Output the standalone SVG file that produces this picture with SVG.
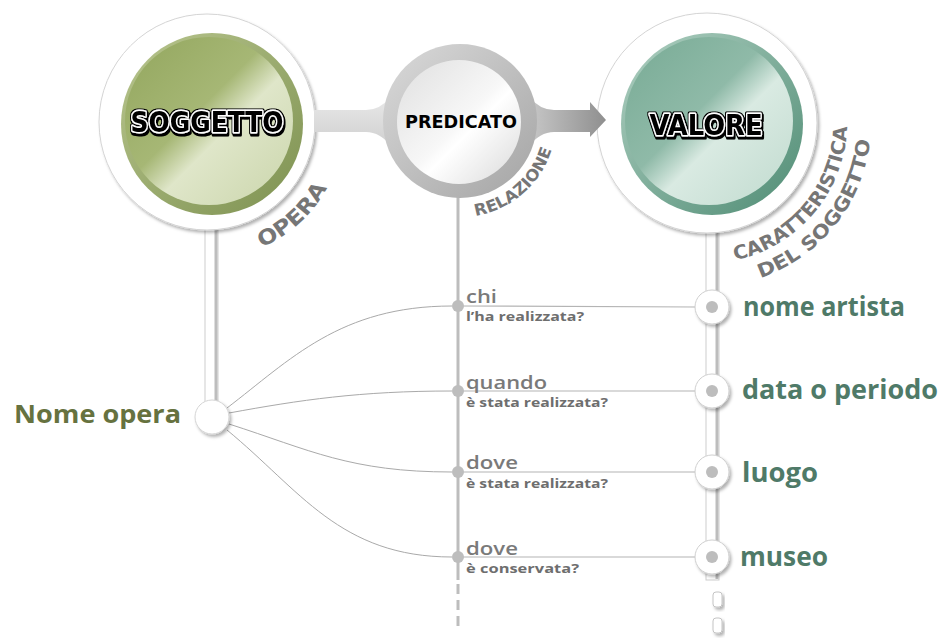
<svg xmlns="http://www.w3.org/2000/svg" width="946" height="638" viewBox="0 0 946 638">
<defs>
<style>
.title{font-family:"DejaVu Sans","Liberation Sans",sans-serif;font-weight:bold;fill:#000;stroke:#fff;stroke-width:3;paint-order:stroke;stroke-linejoin:round}
.arc{font-family:"DejaVu Sans","Liberation Sans",sans-serif;font-weight:bold;fill:#767676}
.q{font-family:"Open Sans","Liberation Sans",sans-serif;font-weight:600;fill:#7a7a7a;font-size:18px}
.qs{font-family:"Open Sans","Liberation Sans",sans-serif;font-weight:700;fill:#6e6e6e;font-size:12.5px}
.val{font-family:"Open Sans","Liberation Sans",sans-serif;font-weight:700;fill:#4f7a68;font-size:26px}
.ring{fill:#fff;stroke:#d4d4d4;stroke-width:1;filter:url(#shadow)}
.vnode{fill:#fff;stroke:#cfcfcf;stroke-width:1;filter:url(#shadow)}
.dot{fill:#bdbdbd}
.thin{fill:none;stroke:#b4b4b4;stroke-width:1.2}
.curve{fill:none;stroke:#a9a9a9;stroke-width:1}
</style>
<filter id="shadow" x="-20%" y="-20%" width="150%" height="150%">
<feDropShadow dx="2" dy="2.5" stdDeviation="1.5" flood-color="#000" flood-opacity="0.3"/>
</filter>
<filter id="outline" x="-10%" y="-40%" width="120%" height="180%">
<feMorphology in="SourceAlpha" operator="dilate" radius="1.3" result="d"/>
<feFlood flood-color="#000"/>
<feComposite in2="d" operator="in" result="o"/>
<feOffset in="o" dx="1" dy="1.5" result="oo"/>
<feMerge><feMergeNode in="oo"/><feMergeNode in="o"/><feMergeNode in="SourceGraphic"/></feMerge>
</filter>
<linearGradient id="greenRim" x1="0" y1="0" x2="1" y2="1">
<stop offset="0" stop-color="#b9c68f"/><stop offset="1" stop-color="#7d9150"/>
</linearGradient>
<linearGradient id="greenIn" x1="0.1" y1="0.1" x2="0.9" y2="0.9">
<stop offset="0" stop-color="#97aa63"/><stop offset="0.42" stop-color="#a6b775"/><stop offset="0.6" stop-color="#dfe6c9"/><stop offset="1" stop-color="#cfd9b2"/>
</linearGradient>
<linearGradient id="tealRim" x1="0" y1="0" x2="1" y2="1">
<stop offset="0" stop-color="#b0d0c2"/><stop offset="1" stop-color="#4f8c74"/>
</linearGradient>
<linearGradient id="tealIn" x1="0.1" y1="0.1" x2="0.9" y2="0.9">
<stop offset="0" stop-color="#7dae99"/><stop offset="0.42" stop-color="#8fbaa8"/><stop offset="0.6" stop-color="#d9eae2"/><stop offset="1" stop-color="#c6ded3"/>
</linearGradient>
<linearGradient id="grayRing" x1="0" y1="0" x2="1" y2="1">
<stop offset="0" stop-color="#dadada"/><stop offset="1" stop-color="#a4a4a4"/>
</linearGradient>
<linearGradient id="whiteIn" x1="0.1" y1="0.1" x2="0.9" y2="0.9">
<stop offset="0" stop-color="#e4e4e4"/><stop offset="0.5" stop-color="#f7f7f7"/><stop offset="0.6" stop-color="#ffffff"/><stop offset="1" stop-color="#e2e2e2"/>
</linearGradient>
<linearGradient id="bandL" x1="0" y1="0" x2="0" y2="1">
<stop offset="0" stop-color="#e9e9e9"/><stop offset="1" stop-color="#cfcfcf"/>
</linearGradient>
<linearGradient id="bandR" x1="0" y1="0" x2="1" y2="0">
<stop offset="0" stop-color="#c8c8c8"/><stop offset="1" stop-color="#8f8f8f"/>
</linearGradient>
<path id="arcOpera" d="M242.5,254.3 A137,137 0 0 0 335.7,168.9"/>
<path id="arcRel" d="M460,217 A96,96 0 0 0 555.1,134.4"/>
<path id="arcCar" d="M711.9,262.9 A140,140 0 0 0 845.6,103.5"/>
<path id="arcDel" d="M735.5,284.5 A164,164 0 0 0 870.8,114.4"/>
</defs>

<rect width="946" height="638" fill="#fff"/>

<g id="node-soggetto">
<rect x="205" y="220" width="13" height="185" fill="#fff" stroke="#cdcdcd" stroke-width="1"/>
<line x1="216" y1="222" x2="216" y2="404" stroke="#bdbdbd" stroke-width="3"/>
<circle class="ring" cx="207" cy="122" r="108"/>
<circle cx="212" cy="124" r="91" fill="url(#greenRim)"/>
<circle cx="209" cy="121" r="84" fill="url(#greenIn)"/>
<text class="title" x="207" y="132" font-size="29" text-anchor="middle" textLength="153" lengthAdjust="spacingAndGlyphs" filter="url(#outline)">SOGGETTO</text>
<text class="arc" font-size="21"><textPath href="#arcOpera" startOffset="50%" text-anchor="middle" textLength="90" lengthAdjust="spacingAndGlyphs">OPERA</textPath></text>
</g>

<g id="node-valore">
<rect x="706" y="225" width="13" height="355" fill="#fff" stroke="#cdcdcd" stroke-width="1"/>
<line x1="717" y1="228" x2="717" y2="579" stroke="#bdbdbd" stroke-width="3"/>
<circle class="ring" cx="707" cy="123" r="110"/>
<circle cx="712" cy="124" r="91" fill="url(#tealRim)"/>
<circle cx="709" cy="121" r="84" fill="url(#tealIn)"/>
<text class="title" x="706" y="135" font-size="29" text-anchor="middle" textLength="113" lengthAdjust="spacingAndGlyphs" filter="url(#outline)">VALORE</text>
<text class="arc" font-size="19"><textPath href="#arcCar" startOffset="50%" text-anchor="middle" textLength="188" lengthAdjust="spacingAndGlyphs">CARATTERISTICA</textPath></text>
<text class="arc" font-size="19"><textPath href="#arcDel" startOffset="50%" text-anchor="middle" textLength="186" lengthAdjust="spacingAndGlyphs">DEL SOGGETTO</textPath></text>
<rect x="713" y="592" width="9" height="15" rx="3" fill="#fff" stroke="#c4c4c4" stroke-width="1" filter="url(#shadow)"/>
<rect x="713" y="618" width="9" height="15" rx="3" fill="#fff" stroke="#c4c4c4" stroke-width="1" filter="url(#shadow)"/>
</g>

<g id="connectors">
<path d="M314,110 L366,110 Q380,110 392,96 L392,147 Q380,132 366,132 L314,132 Z" fill="url(#bandL)"/>
<path d="M528,96 Q540,110 554,110 L590,110 L590,102 L606,120 L590,137 L590,132 L554,132 Q540,132 528,147 Z" fill="url(#bandR)"/>
<line x1="458" y1="196" x2="458" y2="580" stroke="#bdbdbd" stroke-width="3"/>
<line x1="458" y1="584" x2="458" y2="630" stroke="#bdbdbd" stroke-width="3" stroke-dasharray="10 6"/>
<path class="curve" d="M227,408 C290,360 340,306 452,306"/>
<path class="curve" d="M229,413 C300,400 360,391 452,391"/>
<path class="curve" d="M229,424 C310,450 350,472 452,472"/>
<path class="curve" d="M227,430 C300,490 340,557 452,557"/>
<line class="thin" x1="458" y1="306" x2="696" y2="307"/>
<line class="thin" x1="458" y1="391" x2="696" y2="391"/>
<line class="thin" x1="458" y1="472" x2="696" y2="472"/>
<line class="thin" x1="458" y1="557" x2="696" y2="557"/>
</g>

<g id="node-predicato">
<circle cx="460" cy="121" r="77" fill="url(#grayRing)"/>
<circle cx="459" cy="122" r="62" fill="url(#whiteIn)"/>
<text class="title" x="461" y="128" font-size="17" text-anchor="middle" textLength="112" lengthAdjust="spacingAndGlyphs" style="stroke:none">PREDICATO</text>
<text class="arc" font-size="16"><textPath href="#arcRel" startOffset="50%" text-anchor="middle" textLength="106" lengthAdjust="spacingAndGlyphs">RELAZIONE</textPath></text>
</g>

<g id="node-nome-opera">
<circle class="ring" cx="212" cy="417" r="17"/>
<text x="14" y="423" font-family="'Open Sans','Liberation Sans',sans-serif" font-weight="700" font-size="25" fill="#66723f" textLength="167" lengthAdjust="spacingAndGlyphs">Nome opera</text>
</g>

<g id="node-chi">
<circle class="dot" cx="458" cy="306" r="6"/>
<text class="q" x="466" y="303" textLength="31" lengthAdjust="spacingAndGlyphs">chi</text>
<text class="qs" x="466" y="321" textLength="118" lengthAdjust="spacingAndGlyphs">l’ha realizzata?</text>
</g>
<g id="node-quando">
<circle class="dot" cx="458" cy="391" r="6"/>
<text class="q" x="466" y="389" textLength="81" lengthAdjust="spacingAndGlyphs">quando</text>
<text class="qs" x="466" y="407" textLength="142" lengthAdjust="spacingAndGlyphs">è stata realizzata?</text>
</g>
<g id="node-dove1">
<circle class="dot" cx="458" cy="472" r="6"/>
<text class="q" x="466" y="469" textLength="52" lengthAdjust="spacingAndGlyphs">dove</text>
<text class="qs" x="466" y="488" textLength="142" lengthAdjust="spacingAndGlyphs">è stata realizzata?</text>
</g>
<g id="node-dove2">
<circle class="dot" cx="458" cy="557" r="6"/>
<text class="q" x="466" y="555" textLength="52" lengthAdjust="spacingAndGlyphs">dove</text>
<text class="qs" x="466" y="573" textLength="113" lengthAdjust="spacingAndGlyphs">è conservata?</text>
</g>

<g id="node-nome-artista">
<circle class="vnode" cx="712" cy="307" r="17"/>
<circle class="dot" cx="712" cy="307" r="6"/>
<text class="val" x="743" y="316" textLength="162" lengthAdjust="spacingAndGlyphs">nome artista</text>
</g>
<g id="node-data">
<circle class="vnode" cx="712" cy="391" r="17"/>
<circle class="dot" cx="712" cy="391" r="6"/>
<text class="val" x="742" y="399" textLength="196" lengthAdjust="spacingAndGlyphs">data o periodo</text>
</g>
<g id="node-luogo">
<circle class="vnode" cx="712" cy="472" r="17"/>
<circle class="dot" cx="712" cy="472" r="6"/>
<text class="val" x="742" y="482" textLength="76" lengthAdjust="spacingAndGlyphs">luogo</text>
</g>
<g id="node-museo">
<circle class="vnode" cx="712" cy="557" r="17"/>
<circle class="dot" cx="712" cy="557" r="6"/>
<text class="val" x="740" y="566" textLength="88" lengthAdjust="spacingAndGlyphs">museo</text>
</g>
</svg>
